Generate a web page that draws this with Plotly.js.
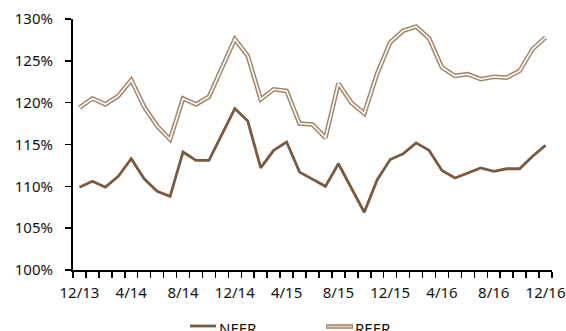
<!DOCTYPE html>
<html>
<head>
<meta charset="utf-8">
<script src="https://cdn.plot.ly/plotly-3.0.1.min.js"></script>
<style>html,body{margin:0;padding:0;background:#fff;}#chart{width:566px;height:331px;}</style>
</head>
<body>
<div id="chart"></div>
<script>
var months = ['12/13','1/14','2/14','3/14','4/14','5/14','6/14','7/14','8/14','9/14','10/14','11/14',
  '12/14','1/15','2/15','3/15','4/15','5/15','6/15','7/15','8/15','9/15','10/15','11/15',
  '12/15','1/16','2/16','3/16','4/16','5/16','6/16','7/16','8/16','9/16','10/16','11/16','12/16'];
var neer = [109.9,110.6,109.9,111.2,113.3,110.9,109.4,108.8,114.1,113.1,113.1,116.2,
  119.3,117.8,112.2,114.3,115.3,111.7,110.8,110.0,112.7,109.8,106.9,110.8,
  113.2,113.9,115.2,114.3,111.9,111.0,111.6,112.2,111.8,112.1,112.1,113.6,114.9];
var reer = [119.4,120.5,119.8,120.8,122.7,119.5,117.2,115.6,120.5,119.8,120.7,124.2,
  127.6,125.6,120.4,121.6,121.4,117.5,117.4,115.8,122.3,120.0,118.7,123.5,
  127.2,128.6,129.1,127.7,124.2,123.2,123.4,122.8,123.1,123.0,123.8,126.4,127.8];
var tickLabels = ['12/13','4/14','8/14','12/14','4/15','8/15','12/15','4/16','8/16','12/16'];
var seriesNames = ['NEER','REER'];

var ticktext = months.map(function(m){ return tickLabels.indexOf(m) >= 0 ? m : ''; });

var neerColor = '#7b5a3f';
var reerColor = '#a3866a';

var traces = [
  {x: months, y: neer, type: 'scatter', mode: 'lines', name: seriesNames[0],
   line: {color: neerColor, width: 2.8}, showlegend: false},
  {x: months, y: reer, type: 'scatter', mode: 'lines', name: seriesNames[1],
   line: {color: reerColor, width: 4.6}, showlegend: false},
  {x: months, y: reer, type: 'scatter', mode: 'lines', name: seriesNames[1] + ' inner',
   line: {color: '#ffffff', width: 1.6}, showlegend: false, hoverinfo: 'skip'}
];

var W = 479, H = 251;
function px(x){ return (x - 73) / W; }
function py(y){ return (270 - y) / H; }

var font = {family: '"Noto Sans", "Open Sans", sans-serif', size: 15, color: '#111111'};

var layout = {
  width: 566, height: 331,
  margin: {l: 73, r: 14, t: 19, b: 61, pad: 0},
  paper_bgcolor: '#ffffff', plot_bgcolor: '#ffffff',
  font: font,
  showlegend: false,
  xaxis: {
    type: 'category', categoryorder: 'array', categoryarray: months,
    range: [-0.5, months.length - 0.5],
    tickmode: 'array', tickvals: months, ticktext: ticktext,
    tickson: 'boundaries',
    ticks: 'outside', ticklen: 6, tickwidth: 1.5, tickcolor: '#000',
    ticklabelstandoff: 8,
    showline: true, linecolor: '#000', linewidth: 2,
    showgrid: false, zeroline: false, tickangle: 0,
    tickfont: font, fixedrange: true
  },
  yaxis: {
    range: [100, 130], tickmode: 'linear', tick0: 100, dtick: 5,
    ticksuffix: '%',
    ticks: 'outside', ticklen: 6, tickwidth: 1.5, tickcolor: '#000',
    ticklabelstandoff: 9,
    showline: true, linecolor: '#000', linewidth: 2,
    showgrid: false, zeroline: false,
    tickfont: font, fixedrange: true
  },
  shapes: [
    {type: 'line', xref: 'paper', yref: 'paper', x0: px(190), x1: px(216), y0: py(326), y1: py(326),
     line: {color: neerColor, width: 2.8}},
    {type: 'line', xref: 'paper', yref: 'paper', x0: px(326), x1: px(353), y0: py(326.5), y1: py(326.5),
     line: {color: reerColor, width: 4.6}},
    {type: 'line', xref: 'paper', yref: 'paper', x0: px(327), x1: px(352), y0: py(326.5), y1: py(326.5),
     line: {color: '#d9c9b5', width: 1.8}}
  ],
  annotations: [
    {xref: 'paper', yref: 'paper', x: px(217), y: py(328), xanchor: 'left', yanchor: 'middle',
     text: seriesNames[0], showarrow: false, font: font},
    {xref: 'paper', yref: 'paper', x: px(353), y: py(328), xanchor: 'left', yanchor: 'middle',
     text: seriesNames[1], showarrow: false, font: font}
  ]
};

Plotly.newPlot('chart', traces, layout, {displayModeBar: false, staticPlot: true});
</script>
</body>
</html>
